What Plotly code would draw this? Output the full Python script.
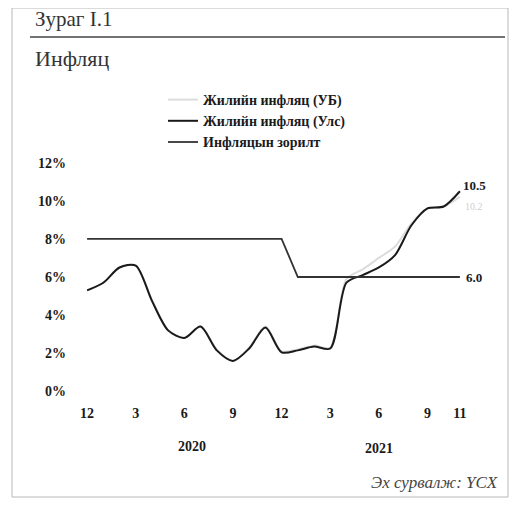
import plotly.graph_objects as go

FONT = "Liberation Serif, Times New Roman, serif"
C_DARK = "#1a1a1a"
C_UB = "#dcdcdc"
C_BORDER = "#b8b8b8"

# months Dec 2019 .. Nov 2021
months = ["2019-12", "2020-01", "2020-02", "2020-03", "2020-04", "2020-05", "2020-06",
          "2020-07", "2020-08", "2020-09", "2020-10", "2020-11", "2020-12",
          "2021-01", "2021-02", "2021-03", "2021-04", "2021-05", "2021-06",
          "2021-07", "2021-08", "2021-09", "2021-10", "2021-11"]
infl_ub = [5.3, 5.7, 6.5, 6.6, 4.8, 3.2, 2.8, 3.4, 2.2, 1.6, 2.3, 3.4,
           2.1, 2.2, 2.4, 2.3, 5.9, 6.4, 7.0, 7.6, 8.8, 9.6, 9.7, 10.2]
infl_nat = [5.3, 5.7, 6.5, 6.6, 4.75, 3.2, 2.8, 3.4, 2.15, 1.6, 2.25, 3.35,
            2.05, 2.15, 2.35, 2.25, 5.7, 6.1, 6.5, 7.15, 8.7, 9.6, 9.7, 10.5]
target = [8, 8, 8, 8, 8, 8, 8, 8, 8, 8, 8, 8, 8,
          6, 6, 6, 6, 6, 6, 6, 6, 6, 6, 6]

tick_idx = [0, 3, 6, 9, 12, 15, 18, 21, 23]
tick_text = ["12", "3", "6", "9", "12", "3", "6", "9", "11"]
y_ticks = [0, 2, 4, 6, 8, 10, 12]
y_text = [f"{v}%" for v in y_ticks]

x = list(range(len(months)))

fig = go.Figure()
fig.add_trace(go.Scatter(x=x, y=infl_ub, name="Жилийн инфляц (УБ)", mode="lines",
                         line=dict(color=C_UB, width=2, shape="spline", smoothing=0.8)))
fig.add_trace(go.Scatter(x=x, y=infl_nat, name="Жилийн инфляц (Улс)", mode="lines",
                         line=dict(color=C_DARK, width=2, shape="spline", smoothing=0.8)))
fig.add_trace(go.Scatter(x=x, y=target, name="Инфляцын зорилт", mode="lines",
                         line=dict(color="#333333", width=1.8)))

# page has an 8px body margin, so work in page px and shift by OFF
OFF = 8
L, R, T, B = 79 - OFF, 468 - OFF, 155 - OFF, 399 - OFF
px = lambda v: (v - OFF - L) / (R - L)
py = lambda v: (B - (v - OFF)) / (B - T)

ann = [
    dict(text="Зураг I.1", x=px(33), y=py(19), xanchor="left", yanchor="middle",
         font=dict(size=21, color="#333")),
    dict(text="Инфляц", x=px(33), y=py(58), xanchor="left", yanchor="middle",
         font=dict(size=22, color="#333")),
    dict(text="<b>2020</b>", x=6.5, xref="x", y=py(446), xanchor="center", yanchor="middle",
         font=dict(size=14, color=C_DARK)),
    dict(text="<b>2021</b>", x=18, xref="x", y=py(448), xanchor="center", yanchor="middle",
         font=dict(size=14, color=C_DARK)),
    dict(text="<i>Эх сурвалж: ҮСХ</i>", x=px(500), y=py(482), xanchor="right",
         yanchor="middle", font=dict(size=17, color="#444")),
    dict(text=f"<b>{infl_nat[-1]:.1f}</b>", x=23, xref="x", y=infl_nat[-1], yref="y",
         xanchor="left", yanchor="middle", xshift=1, yshift=6,
         font=dict(size=13, color=C_DARK)),
    dict(text=f"{infl_ub[-1]:.1f}", x=23, xref="x", y=infl_ub[-1], yref="y",
         xanchor="left", yanchor="middle", xshift=3, yshift=-10,
         font=dict(size=10, color="#cfcfcf")),
    dict(text=f"<b>{target[-1]:.1f}</b>", x=23, xref="x", y=target[-1], yref="y",
         xanchor="left", yanchor="middle", xshift=4,
         font=dict(size=13, color=C_DARK)),
]
for a in ann:
    a.setdefault("xref", "paper")
    a.setdefault("yref", "paper")
    a["showarrow"] = False
    a["font"]["family"] = FONT

shapes = [
    dict(type="line", xref="paper", yref="paper", x0=px(30), x1=px(505),
         y0=py(37), y1=py(37), line=dict(color="#444", width=1.5)),
    dict(type="rect", xref="paper", yref="paper", x0=px(12), x1=px(508),
         y0=py(497), y1=py(8), line=dict(color=C_BORDER, width=1)),
]

fig.update_layout(
    width=517, height=506,
    margin=dict(l=L, r=517 - R, t=T, b=506 - B),
    paper_bgcolor="#FFFFFF", plot_bgcolor="#FFFFFF",
    font=dict(family=FONT, size=14, color=C_DARK),
    showlegend=True,
    legend=dict(x=px(163), y=py(84), xanchor="left", yanchor="top",
                font=dict(size=14, color=C_DARK, weight="bold"), tracegroupgap=0,
                bgcolor="rgba(0,0,0,0)"),
    annotations=ann,
    shapes=shapes,
)
fig.update_xaxes(range=[-0.5, 23.5], tickvals=tick_idx, ticktext=tick_text,
                 tickfont=dict(weight="bold"),
                 showgrid=False, zeroline=False, showline=False, ticks="",
                 ticklabelstandoff=4)
fig.update_yaxes(range=[-0.4, 12.4], tickvals=y_ticks, ticktext=y_text,
                 tickfont=dict(weight="bold"),
                 showgrid=False, zeroline=False, showline=False, ticks="",
                 ticklabelstandoff=12)

fig.write_html("out.html")
